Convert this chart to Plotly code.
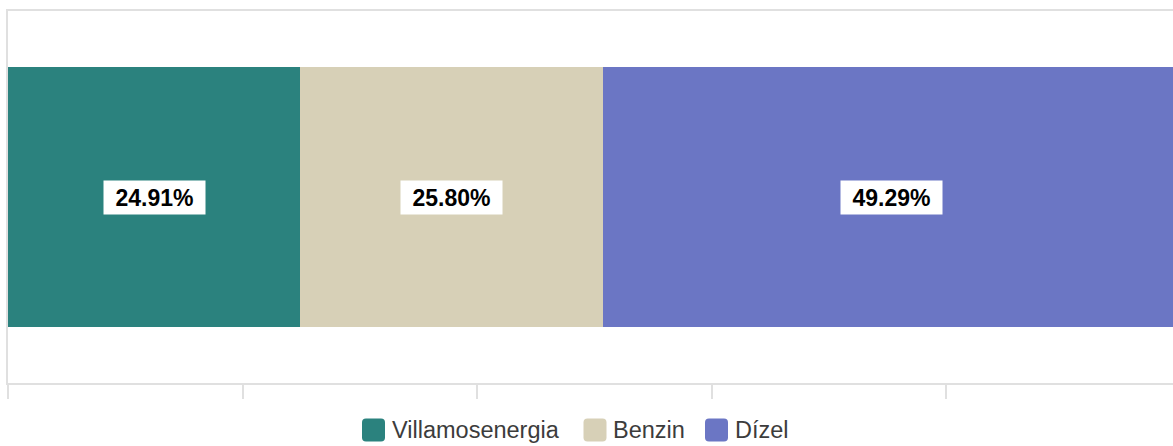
import plotly.graph_objects as go

categories = [""]
series_names = ["Villamosenergia", "Benzin", "Dízel"]
values = [24.91, 25.80, 49.29]
colors = ["#2b827e", "#d7d0b7", "#6b76c4"]
labels = ["24.91%", "25.80%", "49.29%"]

W, H = 1173, 446
left, top, bottom = 8, 11, 63
plot_w = W - left
plot_h = H - top - bottom
xmax = 100 * (W - left) / (1180.5 - left)

fig = go.Figure()
for name, v, c in zip(series_names, values, colors):
    fig.add_trace(go.Bar(
        y=categories, x=[v], name=name, orientation="h",
        marker=dict(color=c, line=dict(width=0)),
        hoverinfo="skip", showlegend=False,
    ))

cum = 0
for v, lab in zip(values, labels):
    fig.add_annotation(
        x=cum + v / 2, y=0, xref="x", yref="y", text="<b>" + lab + "</b>",
        showarrow=False, bgcolor="white", borderpad=5, width=91, height=23,
        font=dict(family="Liberation Sans, Arial, sans-serif", size=23, color="#000"),
    )
    cum += v

# custom legend (rounded swatches + labels) below the plot
legend_swatch_px = [373.5, 595, 716.5]   # swatch centers (pixels)
legend_text_px = [390, 611, 733]         # label left edges (pixels)
legend_y_px = 430
r, s = 4, 11.5

def px_to_paper_x(px):
    return (px - left) / plot_w

def px_to_paper_y(py):
    return (H - bottom - py) / plot_h

rounded = (f"M{-s+r},{-s} L{s-r},{-s} Q{s},{-s} {s},{-s+r} L{s},{s-r} Q{s},{s} {s-r},{s} "
           f"L{-s+r},{s} Q{-s},{s} {-s},{s-r} L{-s},{-s+r} Q{-s},{-s} {-s+r},{-s} Z")
for name, c, sx, tx in zip(series_names, colors, legend_swatch_px, legend_text_px):
    fig.add_shape(
        type="path", xref="paper", yref="paper",
        xsizemode="pixel", ysizemode="pixel",
        xanchor=px_to_paper_x(sx), yanchor=px_to_paper_y(legend_y_px),
        path=rounded, fillcolor=c, line=dict(width=0), layer="above",
    )
    fig.add_annotation(
        x=px_to_paper_x(tx), y=px_to_paper_y(legend_y_px), xref="paper", yref="paper",
        xanchor="left", yanchor="middle", text=name, showarrow=False,
        font=dict(family="Liberation Sans, Arial, sans-serif", size=23.5, color="#3c3c3c"),
    )

fig.update_layout(
    width=W, height=H,
    margin=dict(l=left, r=0, t=top, b=bottom),
    barmode="stack", bargap=0.3, barcornerradius=5,
    plot_bgcolor="white", paper_bgcolor="white",
    showlegend=False,
    xaxis=dict(
        range=[0, xmax], showgrid=False, zeroline=False,
        showline=True, linecolor="#e0e0e0", linewidth=2, mirror=True,
        ticks="outside", ticklen=14, tickcolor="#e0e0e0", tickwidth=2,
        tick0=0, dtick=20, showticklabels=False, fixedrange=True,
    ),
    yaxis=dict(
        range=[-0.5, 0.5], showgrid=False, zeroline=False,
        showline=True, linecolor="#e0e0e0", linewidth=2,
        showticklabels=False, ticks="", fixedrange=True,
    ),
)

fig.write_html("out.html", config={"displayModeBar": False})
